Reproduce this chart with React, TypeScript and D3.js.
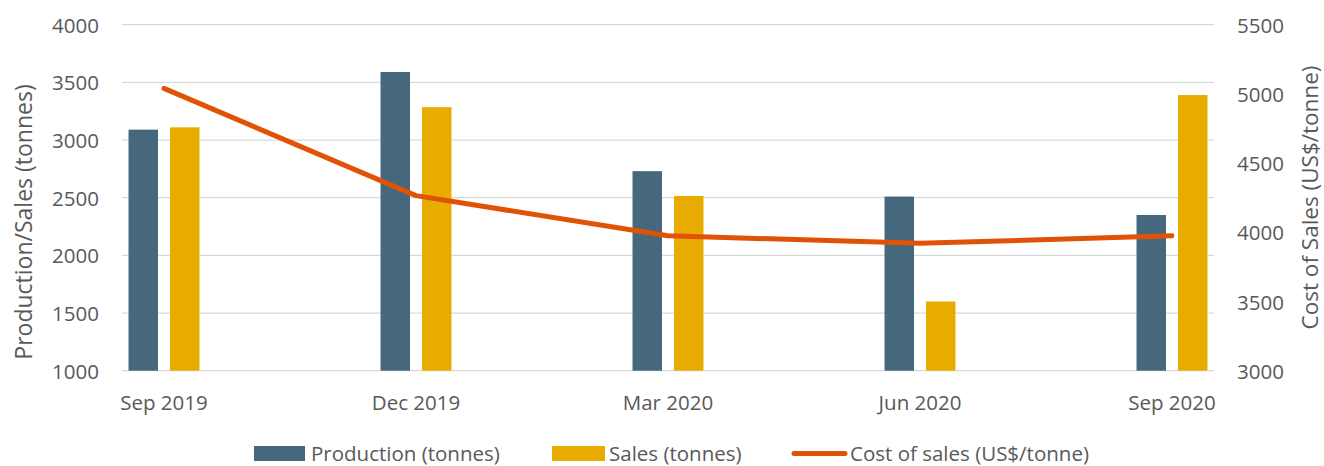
import React from "react";
import * as d3 from "d3";

const categories = ["Sep 2019", "Dec 2019", "Mar 2020", "Jun 2020", "Sep 2020"];
const production = [3090, 3590, 2730, 2510, 2350];
const sales = [3110, 3285, 2515, 1600, 3390];
const costOfSales = [5040, 4265, 3975, 3920, 3975];
const leftTicks = [1000, 1500, 2000, 2500, 3000, 3500, 4000];
const rightTicks = [3000, 3500, 4000, 4500, 5000, 5500];

const W = 1324;
const H = 466;
const left = 122;
const right = 1214;
const top = 24.7;
const bottom = 370.7;

const C_PROD = "#45687C";
const C_SALES = "#E8AB00";
const C_COST = "#E05206";
const C_TEXT = "#595959";
const C_GRID = "#D9D9D9";
const FONT = "'Open Sans', sans-serif";

export default function App() {
  const x = d3.scalePoint<string>().domain(categories).range([left, right]).padding(1 / 6);
  const yL = d3.scaleLinear().domain([1000, 4000]).range([bottom, top]);
  const yR = d3.scaleLinear().domain([3000, 5500]).range([bottom, top]);
  const step = x.step();
  const bw = step * 0.117;
  const gap = step * 0.0476;

  const line = d3
    .line<number>()
    .x((_, i) => x(categories[i]) as number)
    .y((d) => yR(d));

  const fs = 20.5;

  return (
    <svg
      width={W}
      height={H}
      style={{ position: "absolute", left: 0, top: 0, background: "#fff" }}
      fontFamily={FONT}
    >
      {leftTicks.map((t) => (
        <line key={"g" + t} x1={left} x2={right} y1={yL(t)} y2={yL(t)} stroke={C_GRID} strokeWidth={1.3} />
      ))}
      {leftTicks.map((t) => (
        <text key={"l" + t} x={99} y={yL(t)} textAnchor="end" dominantBaseline="central" fontSize={fs} fill={C_TEXT}>
          {t}
        </text>
      ))}
      {rightTicks.map((t) => (
        <text key={"r" + t} x={1237} y={yR(t)} textAnchor="start" dominantBaseline="central" fontSize={fs} fill={C_TEXT}>
          {t}
        </text>
      ))}
      <text
        transform={`translate(23,222) rotate(-90)`}
        textAnchor="middle"
        dominantBaseline="central"
        fontSize={23}
        fill={C_TEXT}
      >
        Production/Sales (tonnes)
      </text>
      <text
        transform={`translate(1309,197.5) rotate(-90)`}
        textAnchor="middle"
        dominantBaseline="central"
        fontSize={22.5}
        fill={C_TEXT}
      >
        Cost of Sales (US$/tonne)
      </text>
      {categories.map((c, i) => {
        const cx = x(c) as number;
        return (
          <g key={c}>
            <rect x={cx - gap / 2 - bw} y={yL(production[i])} width={bw} height={bottom - yL(production[i])} fill={C_PROD} />
            <rect x={cx + gap / 2} y={yL(sales[i])} width={bw} height={bottom - yL(sales[i])} fill={C_SALES} />
            <text x={cx} y={402} textAnchor="middle" dominantBaseline="central" fontSize={fs} fill={C_TEXT}>
              {c}
            </text>
          </g>
        );
      })}
      <path d={line(costOfSales) || ""} fill="none" stroke={C_COST} strokeWidth={5} strokeLinecap="round" strokeLinejoin="round" />
      <g fontSize={fs} fill={C_TEXT}>
        <rect x={254} y={446} width={51} height={15} fill={C_PROD} />
        <text x={311} y={452.5} dominantBaseline="central">Production (tonnes)</text>
        <rect x={552} y={446} width={53} height={15} fill={C_SALES} />
        <text x={609} y={452.5} dominantBaseline="central">Sales (tonnes)</text>
        <line x1={794} x2={845} y1={453.5} y2={453.5} stroke={C_COST} strokeWidth={5} strokeLinecap="round" />
        <text x={850} y={452.5} dominantBaseline="central">Cost of sales (US$/tonne)</text>
      </g>
    </svg>
  );
}
